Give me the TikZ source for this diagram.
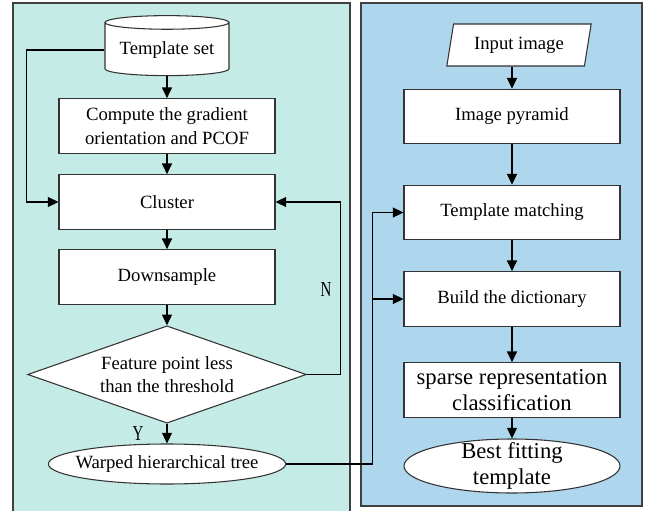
\documentclass[tikz,border=0pt]{standalone}
\usepackage{fontspec}
\setmainfont{Liberation Serif}
\usetikzlibrary{shapes.geometric,arrows.meta}

\definecolor{leftbg}{RGB}{197,235,230}
\definecolor{rightbg}{RGB}{174,214,236}
\newcommand\txtsize{\fontsize{14}{17.5}\selectfont}
\newcommand\bigsize{\fontsize{17}{20}\selectfont}

\begin{document}
\begin{tikzpicture}[x=0.75pt, y=-0.75pt,
    box/.style={draw=black!80, line width=0.8pt, fill=white, minimum width=162pt,
        minimum height=41pt, inner sep=1pt, align=center, font=\txtsize},
    arr/.style={line width=0.8pt, -{Triangle[length=8pt,width=7.5pt]}},
    line/.style={line width=0.8pt},
    lbl/.style={font=\fontsize{16}{16}\selectfont, xscale=0.7}]
    \useasboundingbox (0,0) rectangle (651,511);

    % two panels
    \filldraw[fill=leftbg, draw=black!75, line width=0.9pt] (13,3) rectangle (350,520);
    \filldraw[fill=rightbg, draw=black!75, line width=0.9pt] (361,3) rectangle (642,506);

    % left column: building the template tree
    \node[box, cylinder, shape border rotate=90, aspect=0.14,
        minimum width=93pt, minimum height=45pt] (tset) at (167,50) {Template set};
    \node[box] (grad) at (167,126) {Compute the gradient\\orientation and PCOF};
    \node[box] (clus) at (167,202) {Cluster};
    \node[box] (down) at (167,277) {Downsample};
    \node[box, diamond, aspect=2.9, inner sep=0pt, minimum width=209pt, minimum height=73pt]
        (feat) at (167,374.5) {Feature point less\\than the threshold};
    \node[box, ellipse, inner sep=0pt, minimum width=178pt, minimum height=30pt,
        label={[font=\txtsize]center:Warped hierarchical tree}] (tree) at (167,464) {};

    % right column: matching an input image
    \node[box, trapezium, trapezium left angle=76, trapezium right angle=104,
        trapezium stretches=true, minimum width=109pt, minimum height=31.5pt]
        (inp) at (519,45) {Input image};
    \node[box] (pyr) at (512,116.5) {Image pyramid};
    \node[box] (match) at (512,212.5) {Template matching};
    \node[box] (dict) at (512,299) {Build the dictionary};
    \node[box, font=\bigsize] (src) at (512,390) {sparse representation\\classification};
    \node[box, ellipse, inner sep=0pt, minimum width=162pt, minimum height=40.5pt,
        label={[font=\bigsize, align=center]center:Best fitting\\template}] (best) at (512,466) {};

    \foreach \a/\b in {tset/grad, grad/clus, clus/down, down/feat, feat/tree,
        pyr/match, match/dict, dict/src, src/best}
        \draw[arr] (\a) -- (\b);
    \draw[arr] (inp.south -| pyr.north) -- (pyr.north);

    % side connectors
    \draw[arr] (tset.west) -- ++(-78,0) |- (clus.west);
    \draw[arr] (feat.east) -- ++(34,0) |- (clus.east);
    \draw[line] (tree.east) -- ++(86,0) coordinate (bend) |- (match.west);
    \draw[arr] (bend |- dict.west) -- (dict.west);
    \draw[arr] (bend |- match.west) -- (match.west);

    \node[lbl] (nlab) at (326,290) {N};
    \node[lbl] (ylab) at (138,434) {Y};
\end{tikzpicture}
\end{document}
